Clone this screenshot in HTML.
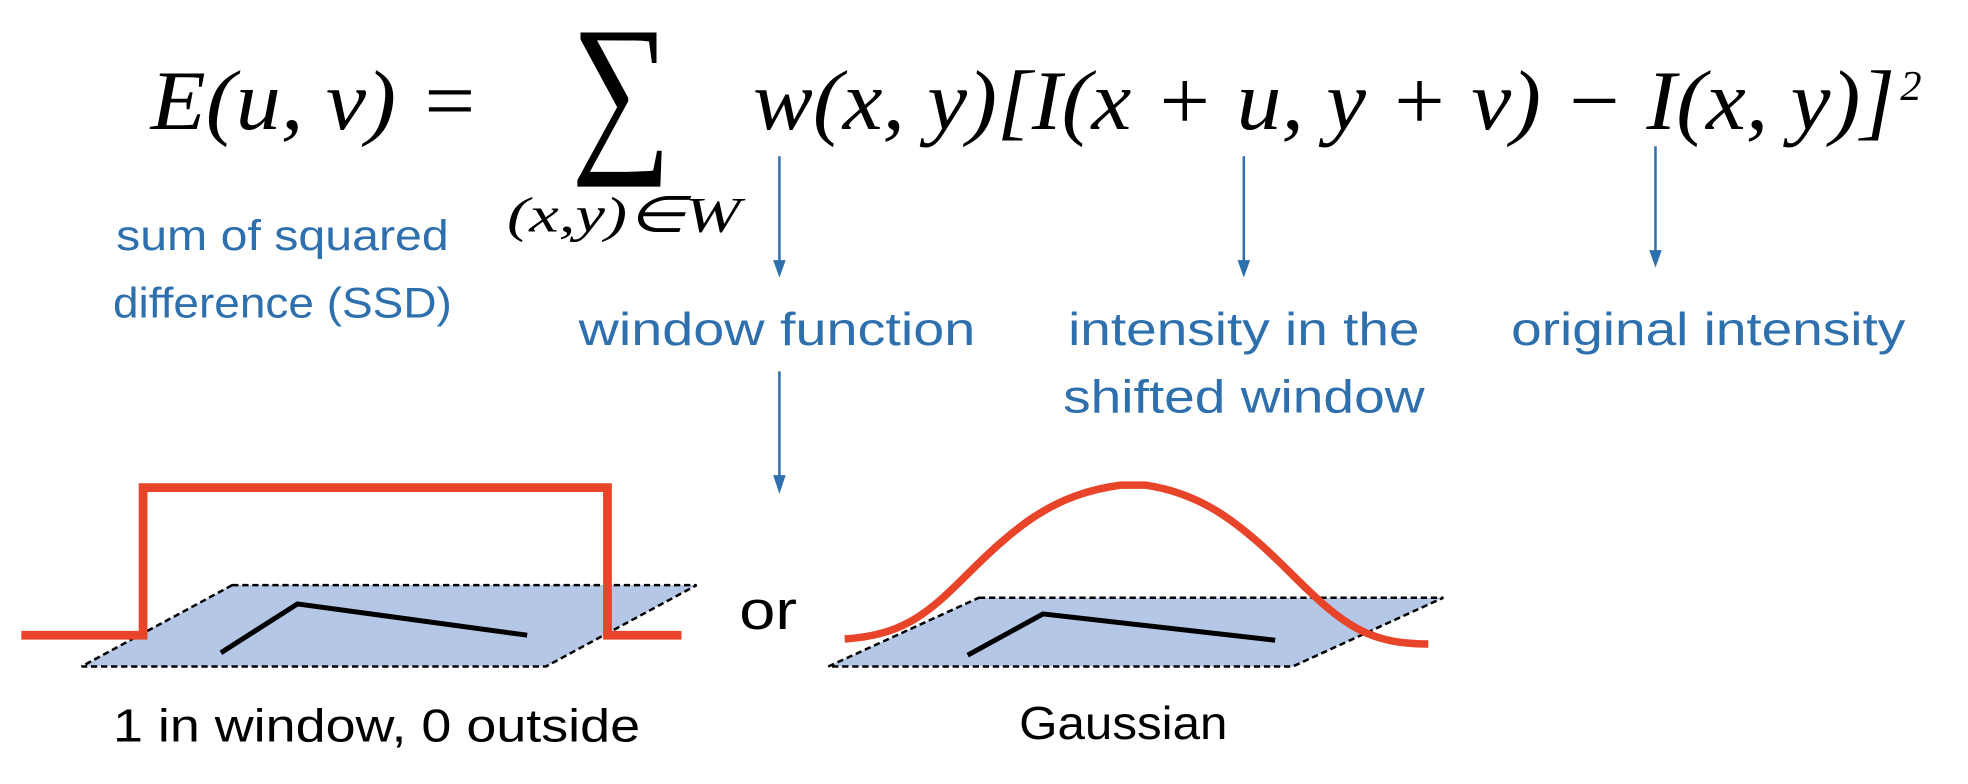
<!DOCTYPE html>
<html><head><meta charset="utf-8"><style>
html,body{margin:0;padding:0;background:#fff;width:1968px;height:784px;overflow:hidden}
svg{display:block}
.eq{font-family:"Liberation Serif",serif;font-style:italic;fill:#000}
.blue{font-family:"Liberation Sans",sans-serif;fill:#2e6fad}
.blk{font-family:"Liberation Sans",sans-serif;fill:#000}
</style></head><body>
<svg width="1968" height="784" viewBox="0 0 1568 627" preserveAspectRatio="none">
<g>
<text class="eq" x="120" y="103" font-size="68" textLength="262" lengthAdjust="spacingAndGlyphs">E(u, v) =</text>
<text x="455" y="119" font-family="Liberation Serif,serif" font-size="142" textLength="80" lengthAdjust="spacingAndGlyphs">∑</text>
<text class="eq" x="404" y="185" font-size="40" textLength="186" lengthAdjust="spacingAndGlyphs">(x,y)∈W</text>
<text class="eq" x="600" y="103" font-size="68" textLength="910" lengthAdjust="spacingAndGlyphs">w(x, y)[I(x + u, y + v) − I(x, y)]</text>
<text class="eq" x="1514" y="80" font-size="34" font-style="normal">2</text>
</g>
<g>
<text class="blue" x="225" y="200" font-size="34" text-anchor="middle" textLength="265" lengthAdjust="spacingAndGlyphs">sum of squared</text>
<text class="blue" x="225" y="254" font-size="34" text-anchor="middle" textLength="270" lengthAdjust="spacingAndGlyphs">difference (SSD)</text>
</g>
<g stroke="#2e6fad" stroke-width="2" fill="#2e6fad">
<line x1="621" y1="125" x2="621" y2="212"/><polygon points="616,208 626,208 621,222" stroke="none"/>
<line x1="991" y1="125" x2="991" y2="212"/><polygon points="986,208 996,208 991,222" stroke="none"/>
<line x1="1319" y1="117" x2="1319" y2="204"/><polygon points="1314,200 1324,200 1319,214" stroke="none"/>
<line x1="621" y1="297" x2="621" y2="384"/><polygon points="616,380 626,380 621,395" stroke="none"/>
</g>
<text class="blue" x="619" y="276" font-size="37" text-anchor="middle" textLength="316" lengthAdjust="spacingAndGlyphs">window function</text>
<text class="blue" x="991" y="276" font-size="37" text-anchor="middle" textLength="280" lengthAdjust="spacingAndGlyphs">intensity in the</text>
<text class="blue" x="991" y="330" font-size="37" text-anchor="middle" textLength="288" lengthAdjust="spacingAndGlyphs">shifted window</text>
<text class="blue" x="1361" y="276" font-size="37" text-anchor="middle" textLength="314" lengthAdjust="spacingAndGlyphs">original intensity</text>
<g>
<polygon points="185,468 555,468 435,533 65,533" fill="#b4c7e7" stroke="#000" stroke-width="2" stroke-dasharray="5,3"/>
<polyline points="176,522 237,483 420,508" fill="none" stroke="#000" stroke-width="4"/>
<polyline points="17,508 114,508 114,390 484,390 484,508 543,508" fill="none" stroke="#e8442a" stroke-width="7"/>
</g>
<text class="blk" x="589" y="503" font-size="44" textLength="46" lengthAdjust="spacingAndGlyphs">or</text>
<g>
<polygon points="780,478 1150,478 1030,533 660,533" fill="#b4c7e7" stroke="#000" stroke-width="2" stroke-dasharray="5,3"/>
<polyline points="771,524 831,491 1016,512" fill="none" stroke="#000" stroke-width="4"/>
<path d="M673,511 C720,508 740,490 770,460 C810,420 840,395 893,388 L913,388 C960,395 990,420 1030,460 C1070,500 1090,515 1138,515" fill="none" stroke="#e8442a" stroke-width="6"/>
</g>
<text class="blk" x="90" y="593" font-size="37" textLength="420" lengthAdjust="spacingAndGlyphs">1 in window, 0 outside</text>
<text class="blk" x="895" y="591" font-size="37" text-anchor="middle" textLength="166" lengthAdjust="spacingAndGlyphs">Gaussian</text>
</svg>
</body></html>
